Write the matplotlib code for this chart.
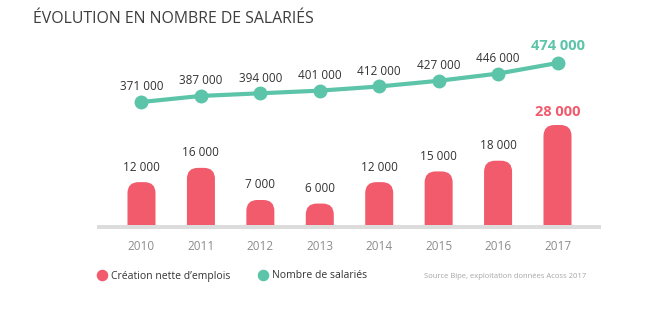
import numpy as np
import matplotlib.pyplot as plt
from matplotlib.path import Path
from matplotlib.patches import PathPatch
from matplotlib.lines import Line2D

# Données
annees = ['2010', '2011', '2012', '2013', '2014', '2015', '2016', '2017']
creations = [12000, 16000, 7000, 6000, 12000, 15000, 18000, 28000]
salaries = [371000, 387000, 394000, 401000, 412000, 427000, 446000, 474000]

rouge = '#f15b6c'
vert = '#5cc4a9'
texte = '#333333'
gris = '#8c8c8c'

plt.rcParams['font.family'] = ['Open Sans', 'DejaVu Sans']

fig = plt.figure(figsize=(6.61, 3.21), dpi=100)
ax = fig.add_axes([0, 0, 1, 1])
ax.axis('off')

# échelle : une année = 59.43 px, barres 100 px pour 28 000
px_x = 59.43
ax.set_xlim(-141.5 / px_x, 7 + (661 - 557.5) / px_x)
ax.set_ylim(-96 * 280, 225 * 280)

largeur = 28 / px_x
rx = 11 / px_x
ry = 11 * 280


def barre_arrondie(x, h):
    g, d = x - largeur / 2, x + largeur / 2
    verts = [(g, 0), (g, h - ry), (g, h), (g + rx, h), (d - rx, h),
             (d, h), (d, h - ry), (d, 0), (g, 0)]
    codes = [Path.MOVETO, Path.LINETO, Path.CURVE3, Path.CURVE3, Path.LINETO,
             Path.CURVE3, Path.CURVE3, Path.LINETO, Path.CLOSEPOLY]
    return PathPatch(Path(verts, codes), facecolor=rouge, edgecolor='none', zorder=2)


x = np.arange(len(annees))
for i, v in enumerate(creations):
    ax.add_patch(barre_arrondie(x[i], v))
    dernier = i == len(creations) - 1
    ax.annotate(f'{v:,}'.replace(',', ' '), (x[i], v), xytext=(0, 13 if dernier else 15),
                textcoords='offset pixels', ha='center', va='center',
                fontsize=10.5 if dernier else 8.5,
                fontweight='bold' if dernier else 'normal',
                color=rouge if dernier else texte)

# bande grise de base
ax.axhspan(-1150, 0, xmin=97 / 661, xmax=601 / 661, color='#dcdcdc', lw=0, zorder=1)

for i, a in enumerate(annees):
    ax.annotate(a, (x[i], 0), xytext=(0, -21), textcoords='offset pixels',
                ha='center', va='center', fontsize=8.5, color=gris)

# courbe du nombre de salariés
ax2 = ax.twinx()
ax2.set_position([0, 0, 1, 1])
ax2.axis('off')
k = 0.3786 / 1000
ax2.set_ylim(371000 - (321 - 102) / k, 474000 + 63 / k)
ax2.plot(x, salaries, color=vert, lw=3, marker='o', markersize=9, zorder=3)
for i, v in enumerate(salaries):
    dernier = i == len(salaries) - 1
    ax2.annotate(f'{v:,}'.replace(',', ' '), (x[i], v), xytext=(0, 17 if dernier else 15),
                 textcoords='offset pixels', ha='center', va='center',
                 fontsize=10.5 if dernier else 8.5,
                 fontweight='bold' if dernier else 'normal',
                 color=vert if dernier else texte)

fig.text(33 / 661, 1 - 19 / 321, 'ÉVOLUTION EN NOMBRE DE SALARIÉS', ha='left', va='center',
         fontsize=11.4, color='#3d3d3d')

poignees = [Line2D([], [], ls='', marker='o', color=rouge, markersize=7.3),
            Line2D([], [], ls='', marker='o', color=vert, markersize=7.3)]
fig.legend(poignees, ['Création nette d’emplois', 'Nombre de salariés'], ncol=2,
           loc='center left', bbox_to_anchor=(98 / 661, 1 - 276 / 321), frameon=False,
           handlelength=0.8, handletextpad=0.45, columnspacing=2.7, borderaxespad=0,
           borderpad=0, fontsize=7.5, labelcolor='#333333')

fig.text(586 / 661, 1 - 276 / 321, 'Source Bipe, exploitation données Acoss 2017',
         ha='right', va='center', fontsize=5.5, color='#a6a6a6')

fig.savefig('out.png', dpi=100)
